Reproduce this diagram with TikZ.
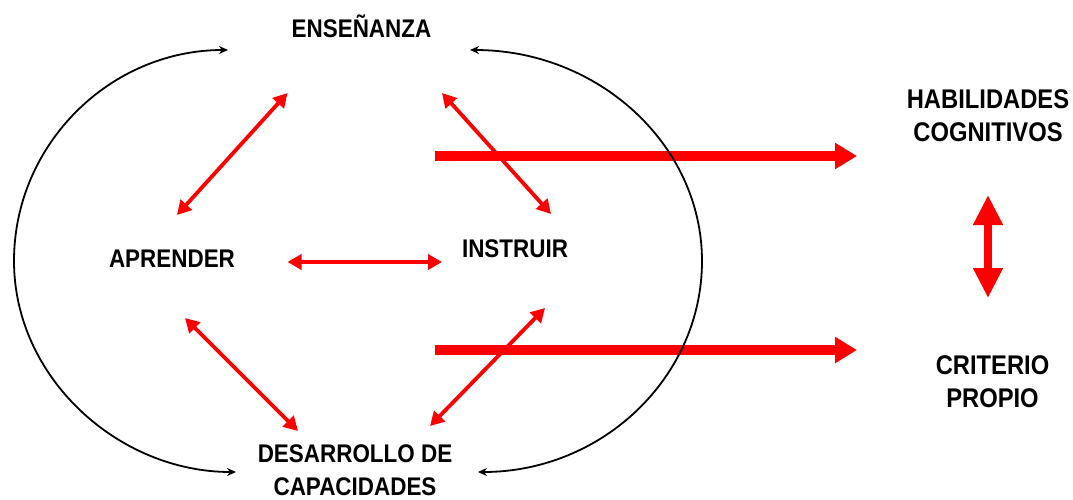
\documentclass[tikz,border=0pt]{standalone}
\usepackage{fontspec}
\setmainfont{Liberation Sans}[FakeStretch=0.88]
\usetikzlibrary{arrows.meta}
\definecolor{pptred}{RGB}{255,0,0}
\begin{document}
\begin{tikzpicture}[x=1pt,y=-1pt,
  lblL/.style={font=\bfseries\fontsize{25.5}{33}\selectfont, align=center, inner sep=0pt},
  lblR/.style={font=\bfseries\fontsize{27}{33}\selectfont, align=center, inner sep=0pt},
  rel/.style={draw=pptred, line width=3.8pt, {Triangle[length=14pt,width=15pt]}-{Triangle[length=14pt,width=15pt]}},
  big/.style={draw=pptred, line width=9.5pt, -{Triangle[length=22pt,width=25pt]}},
  vert/.style={draw=pptred, line width=8pt, {Triangle[length=30pt,width=28pt]}-{Triangle[length=30pt,width=28pt]}},
  cyc/.style={draw=black, line width=1.8pt, {Stealth[length=9pt,width=8pt]}-{Stealth[length=9pt,width=8pt]}},
]
\useasboundingbox (0,0) rectangle (1073,499);

% labels
\node[lblL, anchor=base] (ens) at (361.5,37) {ENSEÑANZA};
\node[lblL, anchor=base] (apr) at (172,267) {APRENDER};
\node[lblL, anchor=base] (ins) at (515,257) {INSTRUIR};
\node[lblL, anchor=north] (des) at (355,444) {DESARROLLO DE\\CAPACIDADES};
\node[lblR, anchor=north] (hab) at (988,89.5) {HABILIDADES\\COGNITIVOS};
\node[lblR, anchor=north] (cri) at (992.5,355.5) {CRITERIO\\PROPIO};

% connector end points
\coordinate (ensA) at (287.5,93);  \coordinate (aprE) at (177,215);
\coordinate (ensI) at (442,93);    \coordinate (insE) at (551,214);
\coordinate (aprI) at (287.5,262); \coordinate (insA) at (442,262);
\coordinate (aprD) at (185,318);   \coordinate (desA) at (298,431);
\coordinate (insD) at (545,308);   \coordinate (desI) at (430,426);
\coordinate (s1) at (435,156);     \coordinate (habW) at (857,156);
\coordinate (s2) at (435,350);     \coordinate (criW) at (857,350);
\coordinate (habS) at (988,195);   \coordinate (criN) at (988,298);
\coordinate (ensL) at (228,50);    \coordinate (desL) at (236,472);
\coordinate (ensR) at (470,50);    \coordinate (desR) at (478,472);

% red relations
\draw[rel] (ensA) -- (aprE);
\draw[rel] (ensI) -- (insE);
\draw[rel] (aprI) -- (insA);
\draw[rel] (aprD) -- (desA);
\draw[rel] (insD) -- (desI);

% thick arrows
\draw[big] (s1) -- (habW);
\draw[big] (s2) -- (criW);
\draw[vert] (habS) -- (criN);

% black cycle curves
\draw[cyc] (ensL) .. controls (110,50) and (14,144.5) .. (14,261)
                  .. controls (14,377.5) and (118,472) .. (desL);
\draw[cyc] (ensR) .. controls (598,50) and (702,144.5) .. (702,261)
                  .. controls (702,377.5) and (602,472) .. (desR);
\end{tikzpicture}
\end{document}
